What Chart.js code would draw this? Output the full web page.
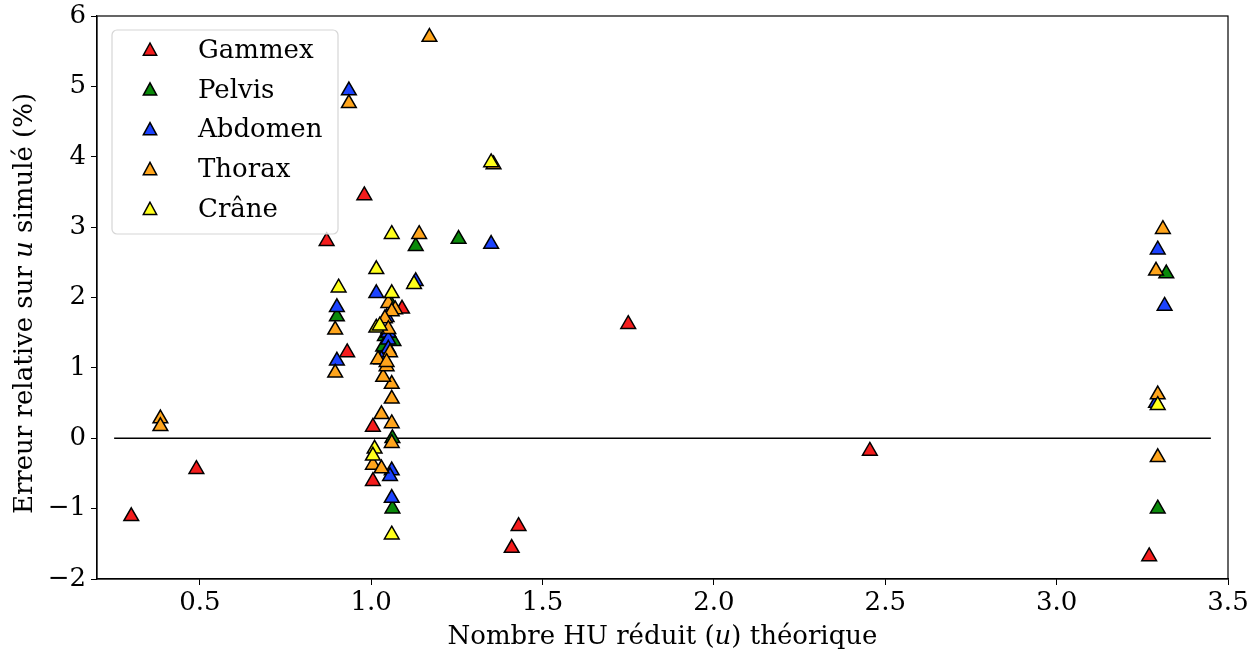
<!DOCTYPE html>
<html>
<head>
<meta charset="utf-8">
<script src="https://cdn.jsdelivr.net/npm/chart.js@4/dist/chart.umd.min.js"></script>
<style>
html, body { margin: 0; padding: 0; background: #fff; }
#cadre { width: 1258px; height: 657px; }
</style>
</head>
<body>
<div id="cadre"><canvas id="graphe"></canvas></div>
<script>
const policeSerif = "'DejaVu Serif', 'Liberation Serif', serif";

const nomsSeries = ['Gammex', 'Pelvis', 'Abdomen', 'Thorax', 'Crâne'];
const couleurs = ['#f41d1d', '#0a8a0a', '#1c43ff', '#ffa51c', '#ffff1c'];

// u théorique / erreur relative (%) pour chaque fantôme
const gammexX = [0.30, 0.49, 0.87, 0.98, 0.93, 1.005, 1.005, 1.09, 1.41, 1.43, 1.75, 2.455, 3.27];
const gammexY = [-1.11, -0.44, 2.80, 3.45, 1.22, 0.16, -0.61, 1.84, -1.56, -1.25, 1.62, -0.18, -1.68];

const pelvisX = [0.90, 1.13, 1.255, 3.32, 3.295, 1.062, 1.062, 1.055, 1.065, 1.04, 1.03, 1.05, 1.035];
const pelvisY = [1.73, 2.73, 2.83, 2.34, -1.0, -1.0, 0.0, 1.93, 1.38, 1.45, 1.18, 1.50, 1.30];

const abdomenX = [0.935, 0.90, 0.90, 1.015, 1.13, 1.35, 3.295, 3.315, 3.29, 1.045, 1.05, 1.05, 1.05, 1.06, 1.055, 1.06, 1.03];
const abdomenY = [4.94, 1.86, 1.10, 2.06, 2.23, 2.76, 2.68, 1.88, 0.50, 1.72, 1.50, 1.40, 1.27, -0.46, -0.54, -0.85, 1.12];

const thoraxX = [0.385, 0.385, 1.17, 0.935, 1.357, 1.14, 0.895, 0.895, 3.31, 3.29, 3.295, 3.295,
    1.05, 1.07, 1.06, 1.04, 1.05, 1.02, 1.055, 1.06, 1.035, 1.06, 1.06, 1.06, 1.005, 1.03, 1.045, 1.03, 1.045];
const thoraxY = [0.28, 0.17, 5.70, 4.76, 3.89, 2.90, 1.54, 0.93, 2.97, 2.38, 0.62, -0.27,
    1.92, 1.83, 1.80, 1.70, 1.55, 1.12, 1.22, 0.77, 0.87, 0.56, 0.21, -0.07, -0.38, 0.34, 1.02, -0.43, 1.08];

const craneX = [0.905, 1.015, 1.06, 1.125, 1.35, 1.06, 1.015, 3.295, 1.06, 1.01, 1.005, 1.025];
const craneY = [2.14, 2.40, 2.90, 2.19, 3.92, 2.06, 1.57, 0.47, -1.37, -0.15, -0.25, 1.60];

// droite de référence à 0 %
const ligneZeroX = [0.25, 3.45];
const ligneZeroY = [0, 0];

const ticksX = [0.5, 1.0, 1.5, 2.0, 2.5, 3.0, 3.5];
const ticksY = [-2, -1, 0, 1, 2, 3, 4, 5, 6];

const seriesX = [gammexX, pelvisX, abdomenX, thoraxX, craneX];
const seriesY = [gammexY, pelvisY, abdomenY, thoraxY, craneY];

const taillePolice = 26;

function versPoints(xs, ys) {
    return xs.map((x, i) => ({ x: x, y: ys[i] }));
}

const jeux = nomsSeries.map((nom, i) => ({
    type: 'scatter',
    label: nom,
    data: versPoints(seriesX[i], seriesY[i]),
    pointStyle: 'triangle',
    pointRadius: 8.5,
    backgroundColor: couleurs[i],
    borderColor: '#000',
    borderWidth: 1.5,
    order: 4 - i   // la dernière série passe au-dessus
}));

jeux.push({
    type: 'line',
    label: 'zero',
    data: versPoints(ligneZeroX, ligneZeroY),
    borderColor: '#000',
    borderWidth: 1.5,
    pointRadius: 0,
    order: 10
});

// texte avec un morceau en italique (le u)
function texteMixte(ctx, morceaux, taille, cx, cy) {
    const fonts = morceaux.map(m => (m.it ? 'italic ' : '') + taille + 'px ' + policeSerif);
    let total = 0;
    const largeurs = morceaux.map((m, i) => {
        ctx.font = fonts[i];
        const w = ctx.measureText(m.t).width;
        total += w;
        return w;
    });
    let x = cx - total / 2;
    ctx.textAlign = 'left';
    ctx.textBaseline = 'middle';
    ctx.fillStyle = '#000';
    morceaux.forEach((m, i) => {
        ctx.font = fonts[i];
        ctx.fillText(m.t, x, cy);
        x += largeurs[i];
    });
}

const titresAxes = {
    id: 'titresAxes',
    afterDraw(chart) {
        const ctx = chart.ctx;
        const a = chart.chartArea;
        ctx.save();
        texteMixte(ctx, [{ t: 'Nombre HU réduit (' }, { t: 'u', it: true }, { t: ') théorique' }],
            taillePolice, (a.left + a.right) / 2, 637);
        ctx.translate(25, (a.top + a.bottom) / 2 + 6);
        ctx.rotate(-Math.PI / 2);
        texteMixte(ctx, [{ t: 'Erreur relative sur ' }, { t: 'u', it: true }, { t: ' simulé (%)' }],
            taillePolice, 0, 0);
        ctx.restore();
    }
};

const cadreEtLegende = {
    id: 'cadreEtLegende',
    afterDatasetsDraw(chart) {
        const ctx = chart.ctx;
        const a = chart.chartArea;
        ctx.save();
        // cadre complet
        ctx.strokeStyle = '#000';
        ctx.lineWidth = 1.2;
        ctx.strokeRect(a.left, a.top, a.right - a.left, a.bottom - a.top);

        // boîte de légende
        const bx = 112, by = 30, bw = 226, bh = 204, r = 5;
        ctx.beginPath();
        ctx.moveTo(bx + r, by);
        ctx.arcTo(bx + bw, by, bx + bw, by + bh, r);
        ctx.arcTo(bx + bw, by + bh, bx, by + bh, r);
        ctx.arcTo(bx, by + bh, bx, by, r);
        ctx.arcTo(bx, by, bx + bw, by, r);
        ctx.closePath();
        ctx.fillStyle = 'rgba(255,255,255,0.8)';
        ctx.fill();
        ctx.strokeStyle = '#d6d6d6';
        ctx.lineWidth = 1.2;
        ctx.stroke();

        nomsSeries.forEach((nom, i) => {
            const y = 50 + i * 39.8;
            const x = 150, s = 7;
            ctx.beginPath();
            ctx.moveTo(x, y - s);
            ctx.lineTo(x - s * 0.95, y + s * 0.75);
            ctx.lineTo(x + s * 0.95, y + s * 0.75);
            ctx.closePath();
            ctx.fillStyle = couleurs[i];
            ctx.fill();
            ctx.strokeStyle = '#000';
            ctx.lineWidth = 1.5;
            ctx.stroke();

            ctx.fillStyle = '#000';
            ctx.font = taillePolice + 'px ' + policeSerif;
            ctx.textAlign = 'left';
            ctx.textBaseline = 'middle';
            ctx.fillText(nom, 198, y + 1);
        });
        ctx.restore();
    }
};

const policeTicks = { family: policeSerif, size: taillePolice };

new Chart(document.getElementById('graphe'), {
    type: 'scatter',
    data: { datasets: jeux },
    options: {
        responsive: true,
        maintainAspectRatio: false,
        animation: false,
        devicePixelRatio: 1,
        events: [],
        layout: { padding: { top: 16, right: 30, left: 0, bottom: 0 } },
        plugins: {
            legend: { display: false },
            tooltip: { enabled: false }
        },
        scales: {
            x: {
                type: 'linear',
                min: 0.2,
                max: 3.5,
                afterBuildTicks: s => { s.ticks = ticksX.map(v => ({ value: v })); },
                afterFit: s => { s.height = 78; s.paddingLeft = 0; s.paddingRight = 0; },
                ticks: {
                    font: policeTicks,
                    color: '#000',
                    padding: 3,
                    maxRotation: 0,
                    callback: v => v.toFixed(1)
                },
                grid: { drawOnChartArea: false, tickLength: 6, color: '#000' },
                border: { color: '#000', width: 1.2 }
            },
            y: {
                type: 'linear',
                min: -2,
                max: 6,
                afterBuildTicks: s => { s.ticks = ticksY.map(v => ({ value: v })); },
                afterFit: s => { s.width = 97; s.paddingTop = 0; s.paddingBottom = 0; },
                ticks: {
                    font: policeTicks,
                    color: '#000',
                    padding: 5,
                    callback: v => (v < 0 ? '\u2212' + Math.abs(v) : String(v))
                },
                grid: { drawOnChartArea: false, tickLength: 6, color: '#000' },
                border: { color: '#000', width: 1.2 }
            }
        }
    },
    plugins: [titresAxes, cadreEtLegende]
});
</script>
</body>
</html>
